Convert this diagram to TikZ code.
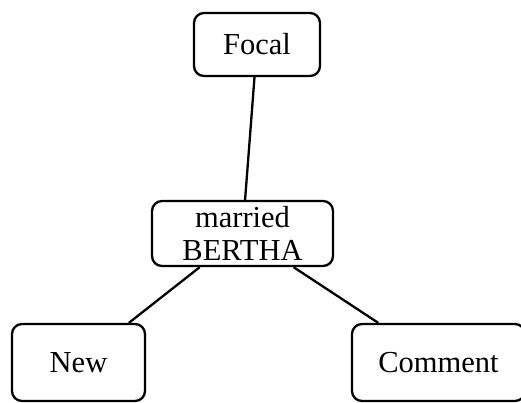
\documentclass[tikz,border=0pt]{standalone}
\usepackage{fontspec}
\setmainfont{Liberation Serif}
\begin{document}
\begin{tikzpicture}[x=1pt,y=-1pt,
  box/.style={draw=black, line width=2.3pt, rounded corners=10pt, fill=white,
    inner sep=0pt, align=center, font=\fontsize{30.5}{33}\selectfont},
  link/.style={draw=black, line width=2.3pt}]
  % page frame (boxes at the lower edge run past it)
  \clip (0,0) rectangle (521,402);
  \fill[white] (0,0) rectangle (521,402);
  \node[box, minimum width=126pt, minimum height=63pt] (focal) at (257,44.5) {Focal};
  \node[box, minimum width=181pt, minimum height=65pt] (married) at (242.5,233.5) {married\\BERTHA};
  \node[box, minimum width=133pt, minimum height=77pt] (new) at (78.5,362.5) {New};
  \node[box, minimum width=173pt, minimum height=77pt] (comment) at (438.5,362.5) {Comment};
  \draw[link] (focal) -- (married);
  \draw[link] (married) -- (new);
  \draw[link] (married) -- (comment);
\end{tikzpicture}
\end{document}
